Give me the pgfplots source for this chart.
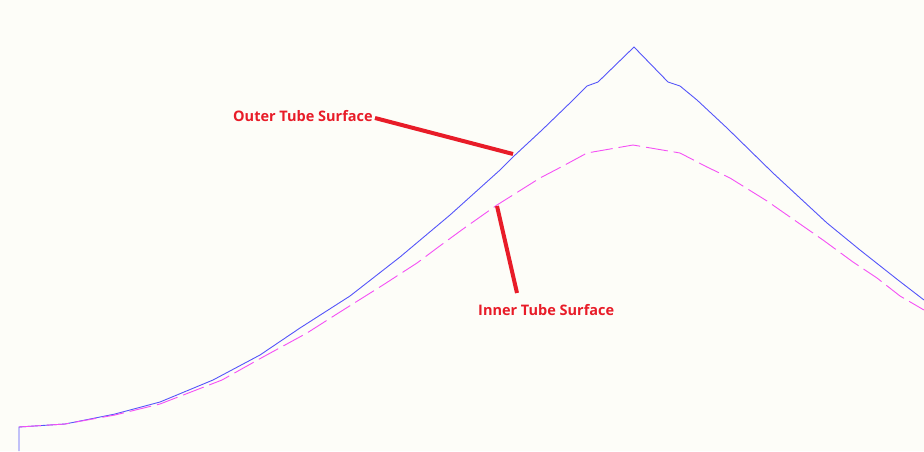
\documentclass[border=0pt]{standalone}
\usepackage{pgfplots}
\pgfplotsset{compat=1.18}
\usepackage{fontspec}
\setmainfont{Open Sans}
\definecolor{bgc}{RGB}{253,253,248}
\definecolor{outerc}{RGB}{85,85,250}
\definecolor{innerc}{RGB}{245,80,245}
\definecolor{redc}{RGB}{232,28,40}
\begin{document}
\begin{tikzpicture}
\begin{axis}[
  width=924pt, height=451pt, scale only axis,
  xmin=0, xmax=924, ymin=0, ymax=451, y dir=reverse,
  hide axis, clip=true,
]
\fill[bgc] (rel axis cs:0,0) rectangle (rel axis cs:1,1);
\addplot[outerc, line width=0.9pt] coordinates {
(19,451) (19,427) (65,424) (115,414) (160,402) (213,380) (260,355)
(300,328) (350,296) (400,257) (450,215) (500,170) (514,156)
(542,130) (572,101) (587,86) (598,82) (634,47) (668,82) (680,86) (697,100)
(727,128) (773,173) (827,223) (860,250) (898,280) (924,300)
};
\addplot[innerc, line width=0.9pt, dash pattern=on 22pt off 6pt] coordinates {
(19,427) (65,424) (115,415) (160,404) (222,380) (263,357) (307,333) (340,312)
(383,285) (417,263) (437,248) (463,229) (497,205) (540,178) (563,166) (587,153)
(633,145) (680,153) (707,167) (730,178) (767,201) (800,224) (823,240) (853,262)
(877,278) (900,296) (924,310)
};
\draw[redc, line width=4pt] (axis cs:375,118) -- (axis cs:513,154);
\draw[redc, line width=4pt] (axis cs:497,206) -- (axis cs:517,293);
\node[anchor=base west, inner sep=0pt, text=redc, font=\fontsize{14.5}{16}\selectfont\bfseries] at (axis cs:233,121) {Outer Tube Surface};
\node[anchor=base west, inner sep=0pt, text=redc, font=\fontsize{14.5}{16}\selectfont\bfseries] at (axis cs:478,315) {Inner Tube Surface};
\end{axis}
\end{tikzpicture}
\end{document}
